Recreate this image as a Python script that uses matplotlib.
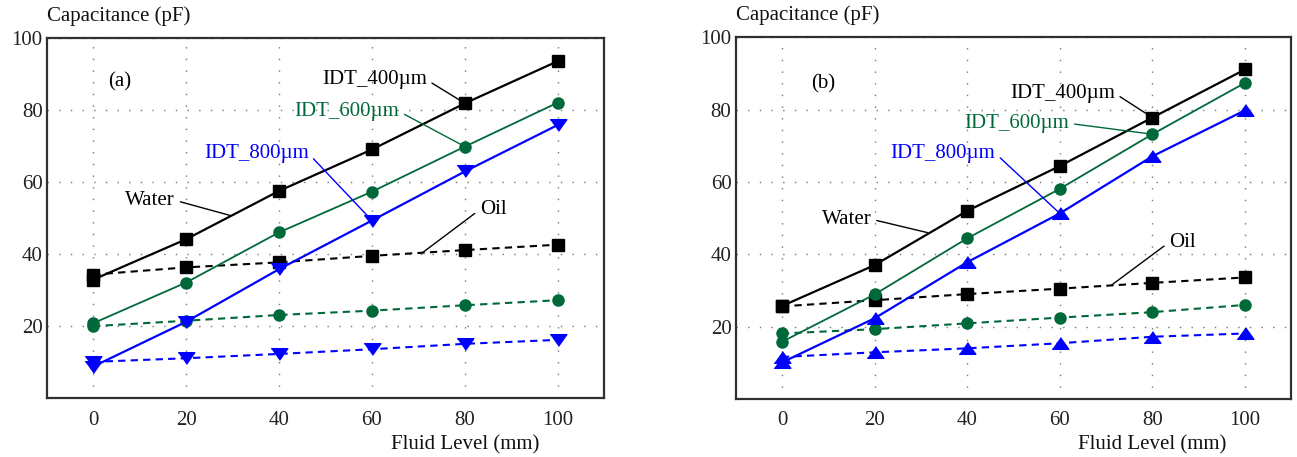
import numpy as np
import matplotlib
matplotlib.use("Agg")
from matplotlib import pyplot as plt

plt.rcParams['font.family'] = ['Liberation Serif', 'DejaVu Serif']
plt.rcParams['font.size'] = 15

# fluid level (mm)
level = [0, 20, 40, 60, 80, 100]
xticks = [0, 20, 40, 60, 80, 100]
yticks = [20, 40, 60, 80, 100]

# panel (a) capacitance (pF)
a_water_400 = [32.9, 44.1, 57.5, 69.0, 81.8, 93.5]
a_oil_400 = [34.3, 36.3, 37.7, 39.5, 41.1, 42.6]
a_water_600 = [20.8, 32.1, 46.0, 57.3, 69.8, 82.0]
a_oil_600 = [20.0, 21.5, 23.1, 24.3, 25.8, 27.2]
a_water_800 = [8.8, 21.2, 35.8, 49.3, 62.9, 75.8]
a_oil_800 = [10.1, 11.1, 12.3, 13.6, 15.1, 16.2]

# panel (b) capacitance (pF)
b_water_400 = [25.7, 37.0, 52.0, 64.4, 77.8, 91.1]
b_oil_400 = [25.6, 27.3, 29.0, 30.5, 32.1, 33.6]
b_water_600 = [15.8, 28.9, 44.4, 58.1, 73.2, 87.4]
b_oil_600 = [18.1, 19.3, 20.9, 22.5, 24.0, 26.0]
b_water_800 = [10.1, 22.3, 37.8, 51.3, 67.1, 79.8]
b_oil_800 = [11.6, 12.9, 14.0, 15.4, 17.2, 18.1]

BLACK = '#000000'
GREEN = '#00693a'
BLUE = '#0000ff'

# slightly flattened triangles like the original
tri_down = [(-1, 0.7), (1, 0.7), (0, -0.7)]
tri_up = [(-1, -0.7), (1, -0.7), (0, 0.7)]


def panel(ax, series, notes, tag, tag_xy):
    ax.set_xlim(-10, 110)
    ax.set_ylim(0, 100)
    ax.set_xticks(xticks)
    ax.set_yticks(yticks)
    ax.tick_params(length=0, colors='#222222', labelsize=15)
    ax.tick_params(axis='x', pad=9)
    ax.tick_params(axis='y', pad=3)
    ax.grid(True, color='#777777', lw=1.0, linestyle=(0, (1, 7.4)))
    ax.set_axisbelow(True)
    for s in ax.spines.values():
        s.set_color('#303030')
        s.set_linewidth(1.6)

    for water, oil, color, marker, ms, lw in series:
        ax.plot(level, oil, color=color, lw=1.5, dashes=(3.5, 2.5),
                marker=marker, ms=ms, zorder=3)
        ax.plot(level, water, color=color, lw=lw, marker=marker, ms=ms,
                zorder=3)

    for text, color, xy, xytext, side in notes:
        if side == 'right':
            ha, rel = 'right', (1, 0.5)
        else:
            ha, rel = 'left', (0, 0.5)
        ax.annotate(text, xy=xy, xytext=xytext, color=color, ha=ha,
                    va='center', fontsize=15,
                    arrowprops=dict(arrowstyle='-', color=color, lw=1.0,
                                    relpos=rel, shrinkA=2, shrinkB=0))

    ax.text(tag_xy[0], tag_xy[1], tag, ha='center', va='center', fontsize=15)
    ax.text(-10, 106, 'Capacitance (pF)', ha='left', va='center',
            fontsize=15, color='#111111', clip_on=False)
    ax.text(80, -12.8, 'Fluid Level (mm)', ha='center', va='center',
            fontsize=15, color='#111111', clip_on=False)


fig = plt.figure(figsize=(12.97, 4.57), dpi=100)
ax1 = fig.add_axes([0.036, 0.1285, 0.4299, 0.789])
ax2 = fig.add_axes([0.5672, 0.127, 0.4284, 0.7914])

panel(ax1,
      [(a_water_400, a_oil_400, BLACK, 's', 8, 1.6),
       (a_water_600, a_oil_600, GREEN, 'o', 8, 1.3),
       (a_water_800, a_oil_800, BLUE, tri_down, 12, 1.6)],
      [('IDT_400\u00b5m', BLACK, (80, 81.8), (71.8, 88.3), 'right'),
       ('IDT_600\u00b5m', GREEN, (80, 69.8), (65.9, 79.5), 'right'),
       ('IDT_800\u00b5m', BLUE, (60, 49.3), (46.4, 67.8), 'right'),
       ('Water', BLACK, (29.5, 50.7), (17.6, 54.9), 'right'),
       ('Oil', BLACK, (70.9, 40.4), (83.2, 52.3), 'left')],
      '(a)', (5.7, 87.8))

panel(ax2,
      [(b_water_400, b_oil_400, BLACK, 's', 8, 1.6),
       (b_water_600, b_oil_600, GREEN, 'o', 8, 1.3),
       (b_water_800, b_oil_800, BLUE, tri_up, 12, 1.6)],
      [('IDT_400\u00b5m', BLACK, (80, 77.8), (71.9, 84.5), 'right'),
       ('IDT_600\u00b5m', GREEN, (80, 73.2), (62.0, 76.2), 'right'),
       ('IDT_800\u00b5m', BLUE, (60, 51.3), (46.1, 67.9), 'right'),
       ('Water', BLACK, (31.4, 46.0), (19.3, 49.7), 'right'),
       ('Oil', BLACK, (71.2, 31.5), (83.6, 43.3), 'left')],
      '(b)', (9.0, 87.2))

fig.savefig('out.png', dpi=100)
